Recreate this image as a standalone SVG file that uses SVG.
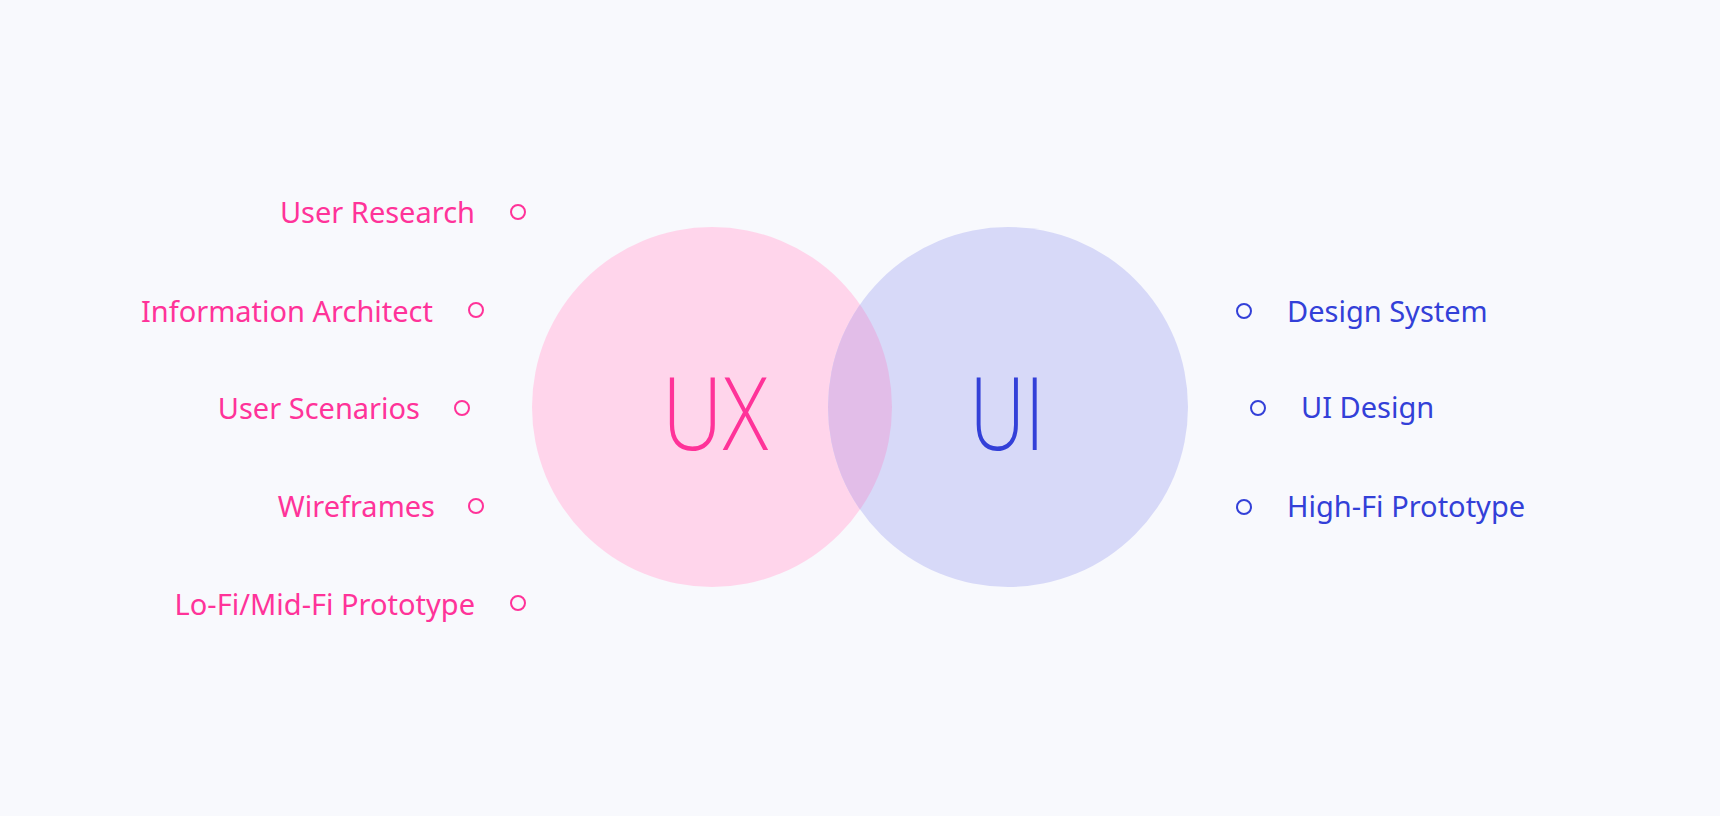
<svg xmlns="http://www.w3.org/2000/svg" width="1720" height="816" viewBox="0 0 1720 816">
  <style>
    .lbl { font-family: "Noto Sans", "Liberation Sans", sans-serif; font-size: 29px; }
    .ux { fill: #ff3399; }
    .ui { fill: #3340d8; }
    .dotux { fill: none; stroke: #ff3399; stroke-width: 2; }
    .dotui { fill: none; stroke: #3340d8; stroke-width: 2; }
    .big { font-family: "Open Sans", "Lato", "Noto Sans", sans-serif; font-size: 101px; font-weight: 300; text-anchor: middle; }
  </style>
  <defs>
    <clipPath id="uxclip"><circle cx="712" cy="407" r="180"/></clipPath>
  </defs>
  <rect x="0" y="0" width="1720" height="816" fill="#f8f9fd"/>
  <g id="venn">
    <circle id="ux-circle" cx="712" cy="407" r="180" fill="#ffd5eb"/>
    <circle id="ui-circle" cx="1008" cy="407" r="180" fill="#d7d9f8"/>
    <circle id="overlap" cx="1008" cy="407" r="180" fill="#e2bde8" clip-path="url(#uxclip)"/>
    <text class="big ux" x="715" y="450" textLength="106" lengthAdjust="spacingAndGlyphs">UX</text>
    <text class="big ui" x="1007" y="450" textLength="75" lengthAdjust="spacingAndGlyphs">UI</text>
  </g>
  <g id="ux-items" class="lbl ux" text-anchor="end">
    <g id="user-research"><text x="475" y="223">User Research</text><circle class="dotux" cx="518" cy="212" r="7"/></g>
    <g id="information-architect"><text x="433" y="322">Information Architect</text><circle class="dotux" cx="476" cy="310" r="7"/></g>
    <g id="user-scenarios"><text x="420" y="419">User Scenarios</text><circle class="dotux" cx="462" cy="408" r="7"/></g>
    <g id="wireframes"><text x="435" y="517">Wireframes</text><circle class="dotux" cx="476" cy="506" r="7"/></g>
    <g id="lofi"><text x="475" y="615">Lo-Fi/Mid-Fi Prototype</text><circle class="dotux" cx="518" cy="603" r="7"/></g>
  </g>
  <g id="ui-items" class="lbl ui">
    <g id="design-system"><circle class="dotui" cx="1244" cy="311" r="7"/><text x="1287" y="322">Design System</text></g>
    <g id="ui-design"><circle class="dotui" cx="1258" cy="408" r="7"/><text x="1301" y="418">UI Design</text></g>
    <g id="hifi"><circle class="dotui" cx="1244" cy="507" r="7"/><text x="1287" y="517">High-Fi Prototype</text></g>
  </g>
</svg>
